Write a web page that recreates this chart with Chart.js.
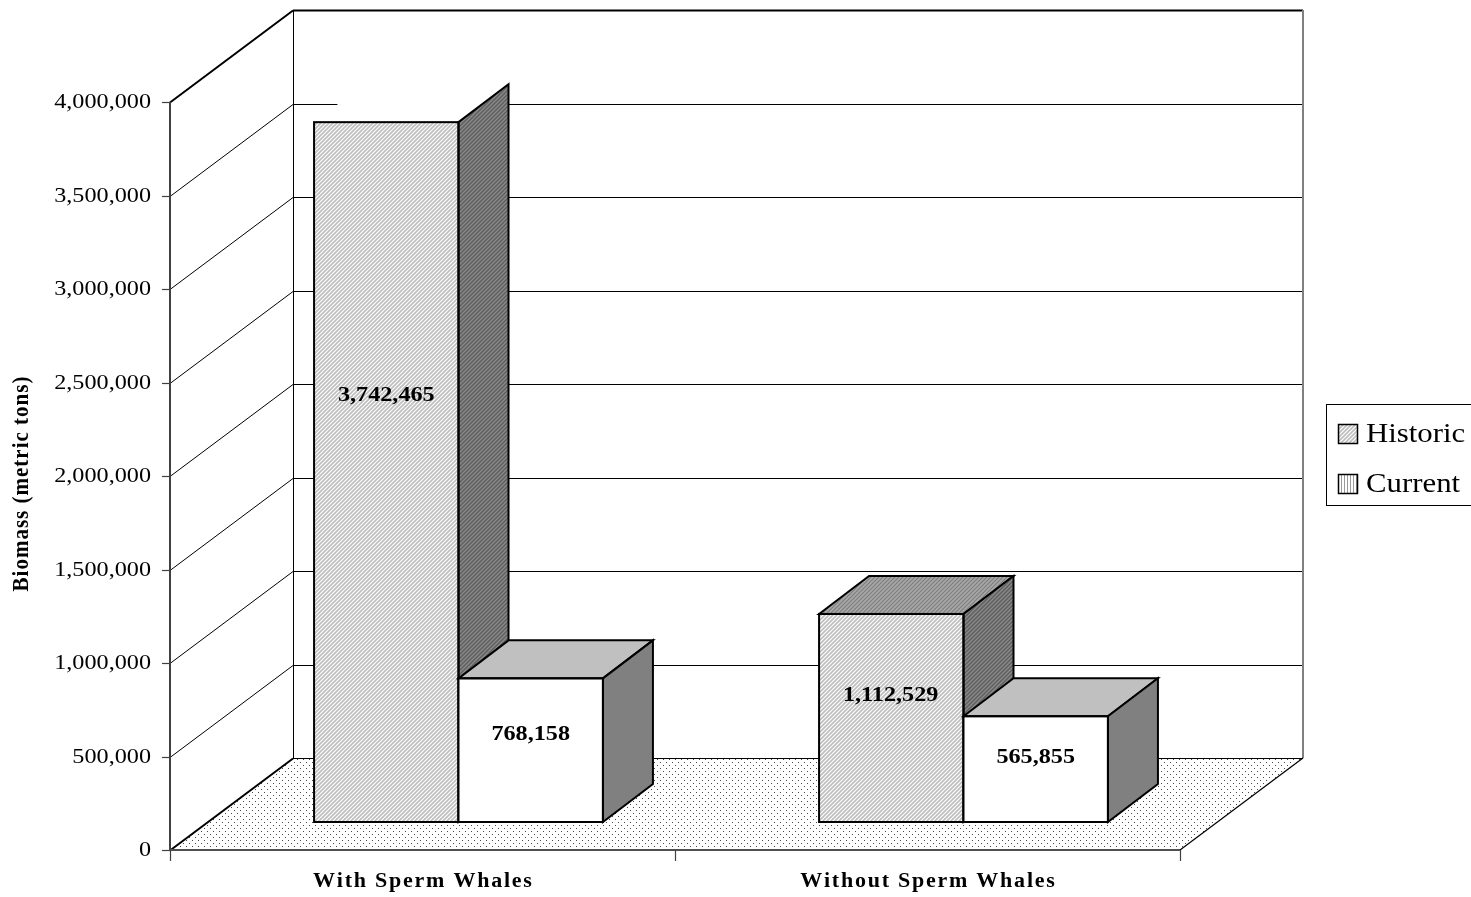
<!DOCTYPE html>
<html>
<head>
<meta charset="utf-8">
<title>Biomass (metric tons)</title>
<script src="https://cdn.jsdelivr.net/npm/chart.js@4.4.0/dist/chart.umd.min.js"></script>
<style>
  html, body { margin: 0; padding: 0; background: #ffffff; }
  #wrap { position: relative; width: 1471px; height: 897px; }
  canvas { display: block; }
  .fontwarm { position: absolute; left: -5000px; top: 0; font-family: "Liberation Serif"; font-size: 20px; }
</style>
</head>
<body>
<div class="fontwarm">Historic 0123456789 <b>With Sperm Whales 0123456789</b></div>
<div id="wrap"><canvas id="chart" width="1471" height="897"></canvas></div>
<script>
// ---- data ----
const categories = ['With Sperm Whales', 'Without Sperm Whales'];
const seriesNames = ['Historic', 'Current'];
const historicValues = [3742465, 1112529];
const currentValues = [768158, 565855];
const yAxisTitle = 'Biomass (metric tons)';
const yMin = 0;
const yMax = 4000000;
const yStep = 500000;

// ---- look ----
const SERIF = '"Liberation Serif", "Times New Roman", serif';
const TEXT_STRETCH = 1.1;            // slightly wide lettering
const WALL_DX = 123, WALL_DY = -92;  // depth of the floor / side wall
const BAR_DX = 36, BAR_DY = -28;     // where the bar row sits in depth
const BAR_DEPTH_DX = 50, BAR_DEPTH_DY = -38; // thickness of each bar
const LABEL_LEVEL = 0.61;            // data labels sit this far up the bar face
const BLANK_CAPS = ['0:0'];          // dataset:index of bars whose cap is left blank

function makeTile(w, h, paint) {
  const c = document.createElement('canvas');
  c.width = w; c.height = h;
  const g = c.getContext('2d');
  paint(g, w, h);
  return document.getElementById('chart').getContext('2d').createPattern(c, 'repeat');
}
function diagonalHatch(bg, fg, p, lw) {
  return makeTile(p, p, (g) => {
    g.fillStyle = bg; g.fillRect(0, 0, p, p);
    g.strokeStyle = fg; g.lineWidth = lw; g.lineCap = 'square';
    g.beginPath();
    g.moveTo(0, p); g.lineTo(p, 0);
    g.moveTo(-p / 2, p / 2); g.lineTo(p / 2, -p / 2);
    g.moveTo(p / 2, p * 1.5); g.lineTo(p * 1.5, p / 2);
    g.stroke();
  });
}
const historicFront = diagonalHatch('#ffffff', '#bdbdbd', 4, 1.6);
const historicSide = diagonalHatch('#5e5e5e', '#8a8a8a', 4, 1.4);
const historicTop = diagonalHatch('#a8a8a8', '#7e7e7e', 4, 1.2);
const currentFront = '#ffffff';
const currentSide = '#808080';
const currentTop = '#c0c0c0';
const currentSwatch = makeTile(3, 3, (g) => {
  g.fillStyle = '#ffffff'; g.fillRect(0, 0, 3, 3);
  g.fillStyle = '#9a9a9a'; g.fillRect(0, 0, 1, 3);
});
const floorDots = makeTile(6, 6, (g) => {
  g.fillStyle = '#ffffff'; g.fillRect(0, 0, 6, 6);
  g.fillStyle = '#4a4a4a'; g.fillRect(0, 0, 1, 1); g.fillRect(3, 3, 1, 1);
});
const faceStyles = [
  { side: historicSide, top: historicTop, swatch: historicFront },
  { side: currentSide, top: currentTop, swatch: currentSwatch }
];

function stretchedText(ctx, text, x, y, font, align, spacing, rotate) {
  ctx.save();
  ctx.translate(x, y);
  if (rotate) {
    ctx.rotate(-Math.PI / 2);
    ctx.scale(1, TEXT_STRETCH);
  } else {
    ctx.scale(TEXT_STRETCH, 1);
  }
  ctx.font = font;
  ctx.fillStyle = '#000000';
  ctx.textBaseline = 'middle';
  ctx.textAlign = 'left';
  let w = 0;
  const chars = Array.from(text);
  chars.forEach((ch) => { w += ctx.measureText(ch).width + (spacing || 0); });
  w -= (spacing || 0);
  let cx = align === 'center' ? -w / 2 : (align === 'right' ? -w : 0);
  if (!spacing) {
    ctx.fillText(text, cx, 0);
  } else {
    chars.forEach((ch) => { ctx.fillText(ch, cx, 0); cx += ctx.measureText(ch).width + spacing; });
  }
  ctx.restore();
}

function line(ctx, x1, y1, x2, y2, color, width) {
  ctx.beginPath();
  ctx.moveTo(x1, y1); ctx.lineTo(x2, y2);
  ctx.strokeStyle = color; ctx.lineWidth = width;
  ctx.stroke();
}

// draws one dataset's bars (front faces by Chart.js) plus their side and top faces
function drawBarRow(chart, index) {
  const ctx = chart.ctx;
  const meta = chart.getDatasetMeta(index);
  const style = faceStyles[index];
  ctx.save();
  ctx.translate(BAR_DX, BAR_DY);
  meta.controller.draw();
  meta.data.forEach((el, i) => {
    const { x, y, base, width } = el.getProps(['x', 'y', 'base', 'width'], true);
    const l = x - width / 2, r = x + width / 2;
    ctx.lineWidth = 2;
    ctx.strokeStyle = '#000000';
    ctx.lineJoin = 'miter';
    // top face
    const blank = BLANK_CAPS.includes(index + ':' + i);
    ctx.beginPath();
    ctx.moveTo(l, y); ctx.lineTo(l + BAR_DEPTH_DX, y + BAR_DEPTH_DY);
    ctx.lineTo(r + BAR_DEPTH_DX, y + BAR_DEPTH_DY); ctx.lineTo(r, y);
    ctx.closePath();
    ctx.fillStyle = blank ? '#ffffff' : style.top;
    ctx.fill();
    if (!blank) ctx.stroke();
    // side face
    ctx.beginPath();
    ctx.moveTo(r, y); ctx.lineTo(r + BAR_DEPTH_DX, y + BAR_DEPTH_DY);
    ctx.lineTo(r + BAR_DEPTH_DX, base + BAR_DEPTH_DY); ctx.lineTo(r, base);
    ctx.closePath();
    ctx.fillStyle = style.side; ctx.fill(); ctx.stroke();
    ctx.strokeRect(l, y, width, base - y);
  });
  ctx.restore();
}

const scene3d = {
  id: 'scene3d',
  beforeDatasetsDraw(chart) {
    const { ctx, chartArea: a, scales: { y } } = chart;
    ctx.save();
    ctx.fillStyle = '#ffffff';
    ctx.fillRect(a.left + WALL_DX, a.top + WALL_DY, a.right - a.left, a.bottom - a.top);
    // floor
    ctx.beginPath();
    ctx.moveTo(a.left, a.bottom);
    ctx.lineTo(a.right, a.bottom);
    ctx.lineTo(a.right + WALL_DX, a.bottom + WALL_DY);
    ctx.lineTo(a.left + WALL_DX, a.bottom + WALL_DY);
    ctx.closePath();
    ctx.fillStyle = floorDots;
    ctx.fill();
    // gridlines on back wall and side wall
    y.ticks.forEach((t) => {
      const py = Math.round(y.getPixelForValue(t.value)) + 0.5;
      const isEdge = t.value === yMin || t.value === yMax;
      line(ctx, a.left, py, a.left + WALL_DX, py + WALL_DY, '#000000', isEdge ? 2 : 1);
      line(ctx, a.left + WALL_DX, py + WALL_DY, a.right + WALL_DX, py + WALL_DY, '#000000', t.value === yMax ? 2 : 1);
    });
    line(ctx, a.left + WALL_DX + 0.5, a.top + WALL_DY, a.left + WALL_DX + 0.5, a.bottom + WALL_DY, '#000000', 1);
    line(ctx, a.right + WALL_DX, a.top + WALL_DY, a.right + WALL_DX, a.bottom + WALL_DY, '#808080', 2);
    line(ctx, a.right, a.bottom, a.right + WALL_DX, a.bottom + WALL_DY, '#000000', 1.2);
    // front axes
    line(ctx, a.left, a.top, a.left, a.bottom + 1, '#404040', 2);
    line(ctx, a.left - 1, a.bottom, a.right, a.bottom, '#505050', 2);
    y.ticks.forEach((t) => {
      const py = Math.round(y.getPixelForValue(t.value)) + 0.5;
      line(ctx, a.left - 8, py, a.left, py, '#404040', 1.2);
      stretchedText(ctx, t.value.toLocaleString('en-US'), a.left - 19, py, '22px ' + SERIF, 'right', 0);
    });
    const n = categories.length;
    for (let i = 0; i <= n; i++) {
      const px = Math.round(a.left + (a.right - a.left) * i / n) + 0.5;
      line(ctx, px, a.bottom, px, a.bottom + 11, '#404040', 1.2);
    }
    ctx.restore();
  },
  // bars are drawn row by row from the left so nearer faces overlap correctly
  beforeDatasetDraw() { return false; },
  afterDatasetsDraw(chart) {
    const { ctx, chartArea: a, scales: { x } } = chart;
    chart.data.datasets.forEach((ds, di) => drawBarRow(chart, di));
    // value labels on the bar faces
    chart.data.datasets.forEach((ds, di) => {
      chart.getDatasetMeta(di).data.forEach((el, i) => {
        const { x: bx, y: by, base } = el.getProps(['x', 'y', 'base'], true);
        const ly = base + (by - base) * LABEL_LEVEL + BAR_DY;
        stretchedText(ctx, ds.data[i].toLocaleString('en-US'), bx + BAR_DX, ly, 'bold 22px ' + SERIF, 'center', 0);
      });
    });
    // category labels
    categories.forEach((c, i) => {
      stretchedText(ctx, c, x.getPixelForValue(i), a.bottom + 32, 'bold 20px ' + SERIF, 'center', 1.6);
    });
    // y axis title
    stretchedText(ctx, yAxisTitle, 22, 484, 'bold 21px ' + SERIF, 'center', 1, true);
    // legend
    ctx.save();
    ctx.strokeStyle = '#000000'; ctx.lineWidth = 1;
    ctx.fillStyle = '#ffffff';
    ctx.fillRect(1326.5, 404.5, 150, 101);
    ctx.strokeRect(1326.5, 404.5, 150, 101);
    seriesNames.forEach((name, i) => {
      const cy = 434 + i * 50;
      ctx.fillStyle = faceStyles[i].swatch;
      ctx.fillRect(1338, cy - 10, 20, 20);
      ctx.lineWidth = 1.5; ctx.strokeStyle = '#000000';
      ctx.strokeRect(1338.5, cy - 9.5, 19, 19);
      stretchedText(ctx, name, 1366, cy + 1, '28px ' + SERIF, 'left', 0);
    });
    ctx.restore();
  }
};

function build() {
  new Chart(document.getElementById('chart'), {
    type: 'bar',
    data: {
      labels: categories,
      datasets: [
        { label: seriesNames[0], data: historicValues, backgroundColor: historicFront },
        { label: seriesNames[1], data: currentValues, backgroundColor: currentFront }
      ]
    },
    options: {
      responsive: false,
      animation: false,
      devicePixelRatio: 1,
      layout: { padding: { left: 170, top: 102, right: 291, bottom: 47 } },
      datasets: { bar: { barPercentage: 1, categoryPercentage: 0.572, borderWidth: 0, clip: false } },
      scales: {
        x: { display: false, offset: true },
        y: { display: false, min: yMin, max: yMax, ticks: { stepSize: yStep } }
      },
      plugins: { legend: { display: false }, tooltip: { enabled: false } }
    },
    plugins: [scene3d]
  });
}
if (document.fonts && document.fonts.ready) {
  document.fonts.ready.then(build);
} else {
  build();
}
</script>
</body>
</html>
